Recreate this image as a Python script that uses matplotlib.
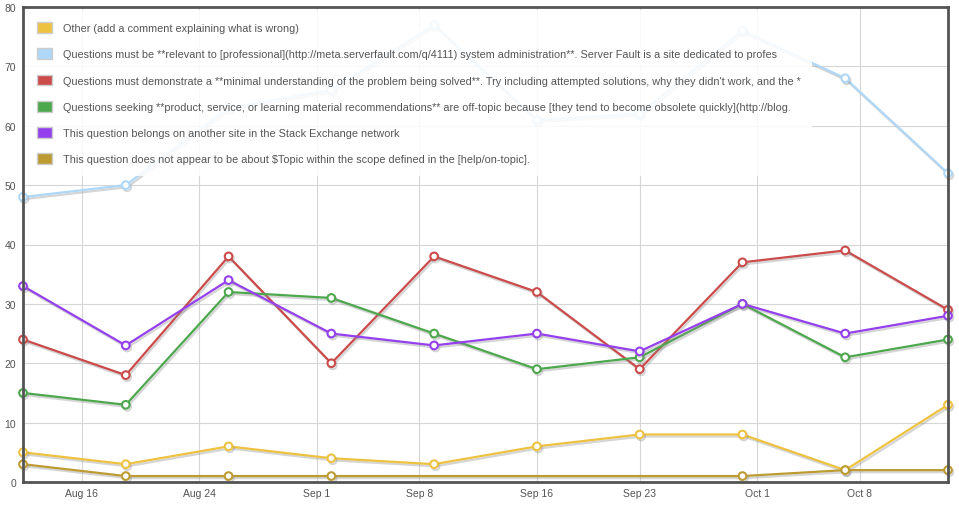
import matplotlib
matplotlib.use("Agg")
import matplotlib.pyplot as plt
import matplotlib.patheffects as pe
from matplotlib.patches import Patch
from datetime import datetime

# weekly close-reason counts
weeks = ["2013-08-12", "2013-08-19", "2013-08-26", "2013-09-02", "2013-09-09",
         "2013-09-16", "2013-09-23", "2013-09-30", "2013-10-07", "2013-10-14"]
other = [5, 3, 6, 4, 3, 6, 8, 8, 2, 13]
relevant = [48, 50, 63, 66, 77, 61, 62, 76, 68, 52]
minimal = [24, 18, 38, 20, 38, 32, 19, 37, 39, 29]
product = [15, 13, 32, 31, 25, 19, 21, 30, 21, 24]
another_site = [33, 23, 34, 25, 23, 25, 22, 30, 25, 28]
# this one has no points for Sep 9 / 16 / 23
offtopic_weeks = ["2013-08-12", "2013-08-19", "2013-08-26", "2013-09-02",
                  "2013-09-30", "2013-10-07", "2013-10-14"]
offtopic = [3, 1, 1, 1, 1, 2, 2]

tick_dates = ["2013-08-16", "2013-08-24", "2013-09-01", "2013-09-08",
              "2013-09-16", "2013-09-23", "2013-10-01", "2013-10-08"]
tick_labels = ["Aug 16", "Aug 24", "Sep 1", "Sep 8", "Sep 16", "Sep 23", "Oct 1", "Oct 8"]

labels = [
    "Other (add a comment explaining what is wrong)",
    "Questions must be **relevant to [professional](http://meta.serverfault.com/q/4111) system administration**. Server Fault is a site dedicated to profes",
    "Questions must demonstrate a **minimal understanding of the problem being solved**. Try including attempted solutions, why they didn't work, and the *",
    "Questions seeking **product, service, or learning material recommendations** are off-topic because [they tend to become obsolete quickly](http://blog.",
    "This question belongs on another site in the Stack Exchange network",
    "This question does not appear to be about $Topic within the scope defined in the [help/on-topic].",
]
colors = ["#edc240", "#afd8f8", "#cb4b4b", "#4da74d", "#9440ed", "#bd9b33"]

def d(lst):
    return [datetime.strptime(s, "%Y-%m-%d") for s in lst]

plt.rcParams['font.family'] = ['Liberation Sans', 'DejaVu Sans']

fig = plt.figure(figsize=(9.59, 5.10), dpi=100)
ax = fig.add_axes([23 / 959, 27 / 510, 925 / 959, 475 / 510])

series = [(weeks, other), (weeks, relevant), (weeks, minimal), (weeks, product),
          (weeks, another_site), (offtopic_weeks, offtopic)]
shadow = [pe.SimpleLineShadow(offset=(1, -1.5), shadow_color='#888888', alpha=0.35),
          pe.Normal()]
for (xs, ys), c in zip(series, colors):
    ax.plot(d(xs), ys, color=c, lw=1.6, marker='o', markersize=5.5,
            markerfacecolor='white', markeredgecolor=c, markeredgewidth=1.5,
            path_effects=shadow, clip_on=False, zorder=3)

ax.set_xlim(d(weeks)[0], d(weeks)[-1])
ax.set_ylim(0, 80)
ax.set_yticks(range(0, 81, 10))
ax.set_xticks(d(tick_dates))
ax.set_xticklabels(tick_labels)
ax.grid(True, color='#d6d6d6', lw=0.8)
ax.set_axisbelow(True)
ax.tick_params(length=0, labelsize=7.5, colors='#545454')
ax.tick_params(axis='x', pad=4)
ax.tick_params(axis='y', pad=5)
for s in ax.spines.values():
    s.set_color('#545454')
    s.set_linewidth(2)
    s.set_zorder(6)

handles = [Patch(facecolor=c, edgecolor='#cccccc', lw=1) for c in colors]
leg = ax.legend(handles, labels, loc='upper left', bbox_to_anchor=(0.002, 0.993),
                borderaxespad=0, borderpad=1.1, fontsize=7.8, frameon=True,
                framealpha=0.87, edgecolor='none', fancybox=False,
                handlelength=1.4, handleheight=1.15, handletextpad=1.0,
                labelspacing=1.4, labelcolor='#545454')
leg.set_zorder(5)

fig.savefig("out.png", dpi=100)
